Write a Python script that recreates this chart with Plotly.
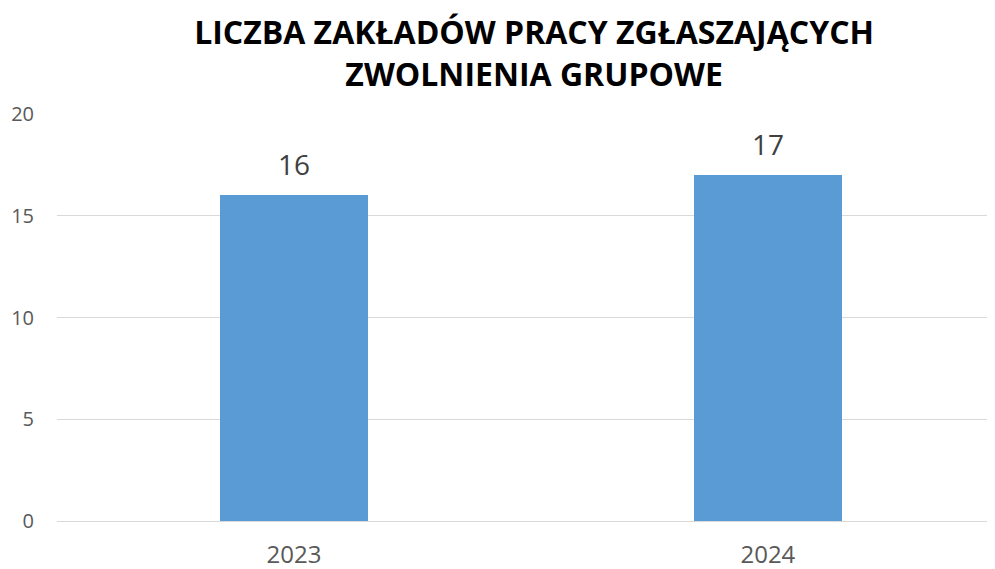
import plotly.graph_objects as go

years = ["2023", "2024"]
counts = [16, 17]
y_ticks = [0, 5, 10, 15, 20]

fig = go.Figure()
fig.add_trace(go.Bar(
    x=years,
    y=counts,
    width=0.3125,
    marker=dict(color="#5B9BD5", line=dict(width=0)),
    hoverinfo="x+y",
))

# value labels above the bars (x by category index)
for i, v in enumerate(counts):
    fig.add_annotation(
        x=i, y=v, text=str(v),
        showarrow=False, yanchor="middle", yshift=31,
        font=dict(family="Open Sans", size=28, color="#404040"),
    )

fig.update_layout(
    title=dict(
        text="LICZBA ZAKŁADÓW PRACY ZGŁASZAJĄCYCH<br>ZWOLNIENIA GRUPOWE",
        x=0.5245, xanchor="center",
        y=0.936, yanchor="middle",
        font=dict(family="Open Sans", size=32, color="#000000", weight="bold"),
    ),
    width=1003, height=569,
    margin=dict(l=49, r=0, t=106, b=56),
    paper_bgcolor="white",
    plot_bgcolor="white",
    showlegend=False,
    bargap=0,
    font=dict(family="Open Sans", color="#595959"),
)
fig.update_xaxes(
    type="category",
    range=[-0.5, 1.513],
    showgrid=False,
    showline=True,
    linecolor="#D9D9D9",
    linewidth=1,
    ticks="",
    ticklabelstandoff=12,
    tickfont=dict(size=24, color="#595959"),
)
fig.update_yaxes(
    range=[0, 20],
    tickvals=y_ticks,
    showgrid=True,
    gridcolor="#D9D9D9",
    gridwidth=1,
    zeroline=False,
    showline=False,
    ticks="",
    ticklabelstandoff=22,
    tickfont=dict(size=20, color="#595959"),
)

fig.write_html("out.html")
